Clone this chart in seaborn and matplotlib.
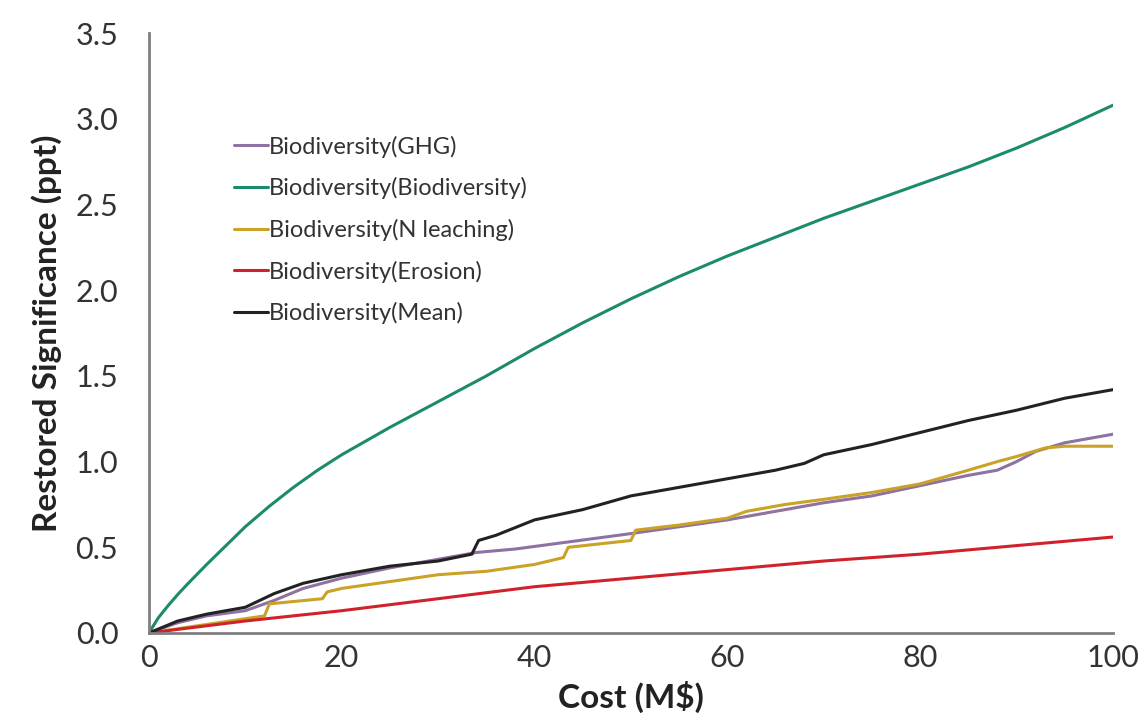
import matplotlib
matplotlib.use("Agg")
import matplotlib.pyplot as plt
import seaborn as sns
import pandas as pd

# 비용 대비 복원 효과 곡선 (값은 그림에서 읽음)
bio_x = [0, 1, 2, 3, 4, 6, 8, 10, 12.5, 15, 17.5, 20, 25, 30, 35, 40, 45, 50, 55, 60, 65, 70, 75, 80, 85, 90, 95, 100]
bio_y = [0, 0.09, 0.16, 0.225, 0.285, 0.40, 0.51, 0.62, 0.74, 0.85, 0.95, 1.04, 1.20, 1.35, 1.50, 1.66, 1.81, 1.95, 2.08, 2.20, 2.31, 2.42, 2.52, 2.62, 2.72, 2.83, 2.95, 3.08]

mean_x = [0, 3, 6, 10, 13, 16, 20, 25, 30, 33.5, 34.2, 36, 40, 45, 50, 55, 60, 65, 68, 70, 75, 80, 85, 90, 95, 100]
mean_y = [0, 0.07, 0.11, 0.15, 0.23, 0.29, 0.34, 0.39, 0.42, 0.46, 0.54, 0.57, 0.66, 0.72, 0.80, 0.85, 0.90, 0.95, 0.99, 1.04, 1.10, 1.17, 1.24, 1.30, 1.37, 1.42]

ghg_x = [0, 3, 6, 10, 13, 16, 20, 25, 30, 34, 38, 42, 46, 50, 55, 60, 65, 70, 75, 80, 85, 88, 90, 92, 95, 100]
ghg_y = [0, 0.06, 0.10, 0.13, 0.19, 0.26, 0.32, 0.38, 0.43, 0.47, 0.49, 0.52, 0.55, 0.58, 0.62, 0.66, 0.71, 0.76, 0.80, 0.86, 0.92, 0.95, 1.00, 1.06, 1.11, 1.16]

nl_x = [0, 6, 12, 12.5, 18, 18.5, 20, 25, 30, 35, 40, 43, 43.5, 50, 50.5, 55, 60, 62, 66, 70, 75, 80, 85, 88, 90, 93, 95, 100]
nl_y = [0, 0.05, 0.10, 0.17, 0.20, 0.24, 0.26, 0.30, 0.34, 0.36, 0.40, 0.44, 0.50, 0.54, 0.60, 0.63, 0.67, 0.71, 0.75, 0.78, 0.82, 0.87, 0.95, 1.00, 1.03, 1.08, 1.09, 1.09]

ero_x = [0, 10, 20, 30, 40, 50, 60, 70, 80, 90, 100]
ero_y = [0, 0.07, 0.13, 0.20, 0.27, 0.32, 0.37, 0.42, 0.46, 0.51, 0.56]

labels = ["Biodiversity(GHG)", "Biodiversity(Biodiversity)", "Biodiversity(N leaching)",
          "Biodiversity(Erosion)", "Biodiversity(Mean)"]
colors = ["#8e72a2", "#1c8a6c", "#c9a227", "#d1222c", "#222222"]

frames = []
for lab, xs, ys in zip(labels, [ghg_x, bio_x, nl_x, ero_x, mean_x], [ghg_y, bio_y, nl_y, ero_y, mean_y]):
    frames.append(pd.DataFrame({"cost": xs, "value": ys, "series": lab}))
df = pd.concat(frames, ignore_index=True)

sns.set_style("white")
plt.rcParams["font.family"] = ["Lato", "DejaVu Sans"]

fig = plt.figure(figsize=(11.45, 7.23), dpi=100)
ax = fig.add_axes([0.130, 0.1245, 0.842, 0.8295])

sns.lineplot(data=df, x="cost", y="value", hue="series", hue_order=labels,
             palette=colors, estimator=None, sort=False, linewidth=2.2, ax=ax)

ax.set_xlim(0, 100)
ax.set_ylim(0, 3.5)
ax.set_xticks([0, 20, 40, 60, 80, 100])
ax.set_yticks([0, 0.5, 1.0, 1.5, 2.0, 2.5, 3.0, 3.5])
ax.set_yticklabels([f"{v:.1f}" for v in ax.get_yticks()])
ax.tick_params(axis="both", length=0, labelsize=22, labelcolor="#333333")
ax.tick_params(axis="y", pad=22)
ax.tick_params(axis="x", pad=8)

for s in ["top", "right"]:
    ax.spines[s].set_visible(False)
for s in ["left", "bottom"]:
    ax.spines[s].set_color("#7f7f7f")
    ax.spines[s].set_linewidth(2)

ax.set_xlabel("Cost (M$)", fontsize=24, fontweight="bold", color="#222222", labelpad=6)
ax.set_ylabel("Restored Significance (ppt)", fontsize=24, fontweight="bold", color="#222222", labelpad=10)

ax.legend(loc="upper left", bbox_to_anchor=(0.066, 0.865), frameon=False, fontsize=17,
          handlelength=1.45, handletextpad=0.05, labelspacing=0.83, labelcolor="#333333")

fig.savefig("out.png", dpi=100)
plt.close(fig)
